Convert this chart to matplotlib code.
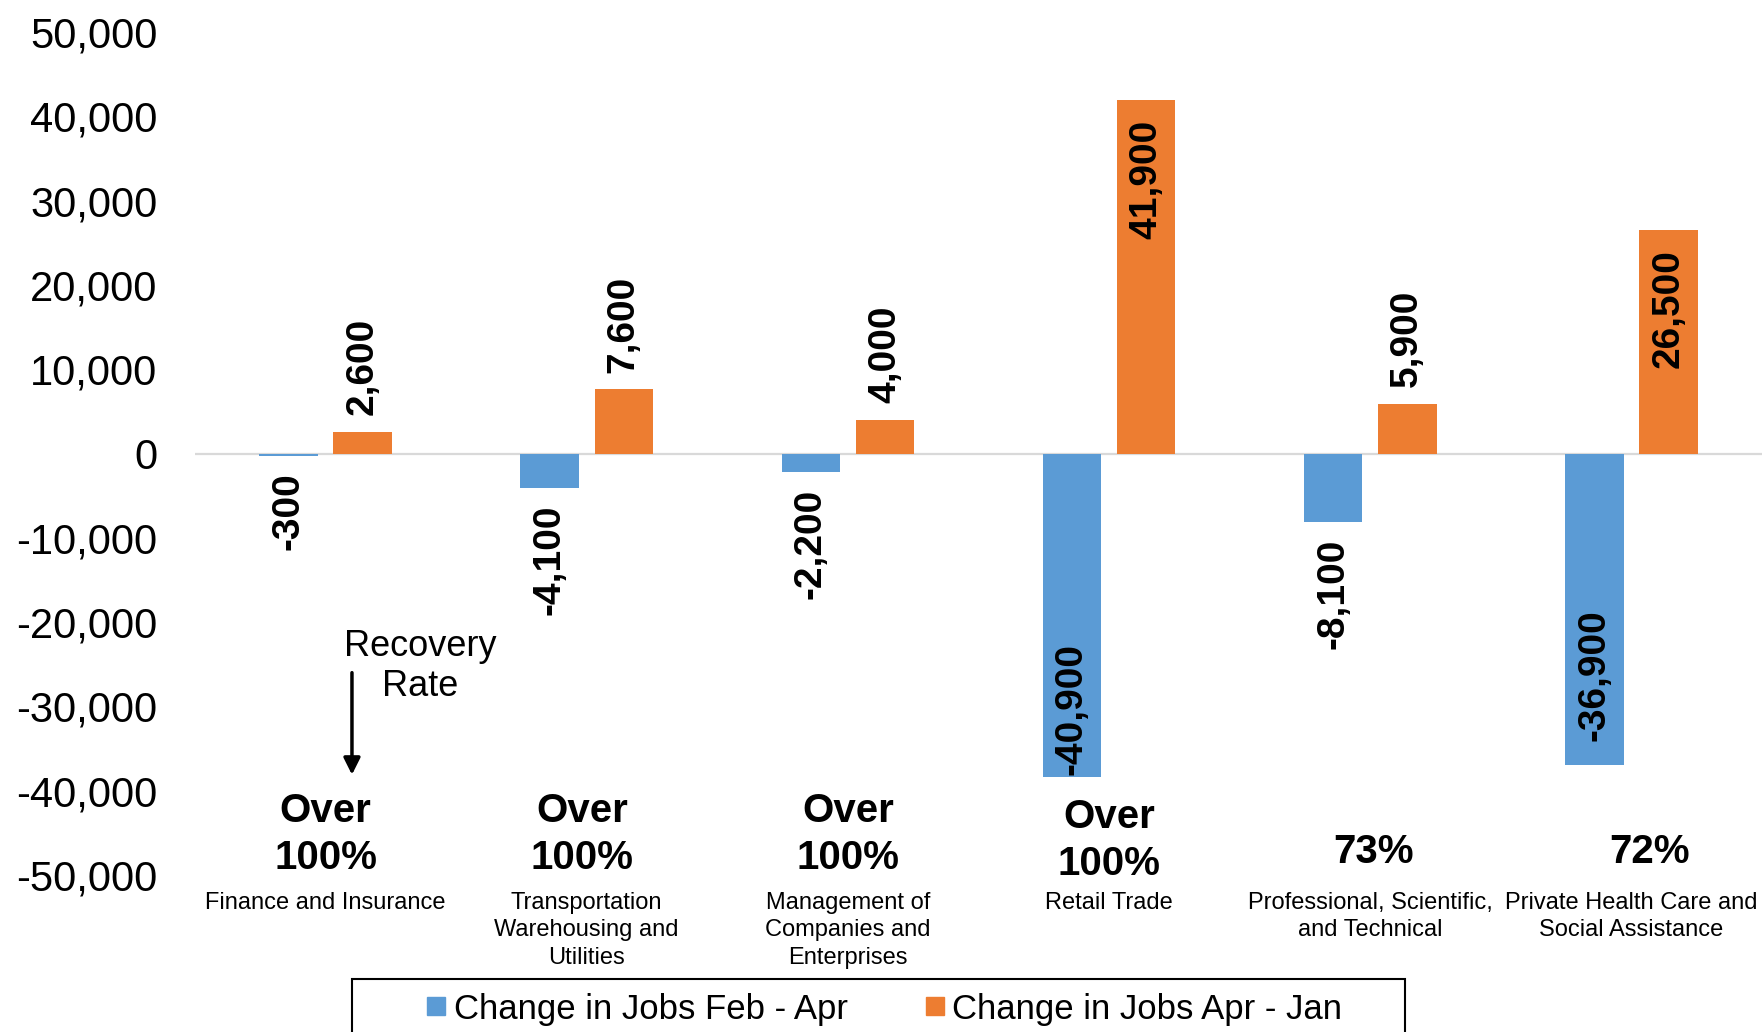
import numpy as np
import matplotlib
matplotlib.use('Agg')
import matplotlib.pyplot as plt
from matplotlib.patches import Rectangle
from matplotlib.lines import Line2D
from matplotlib.ticker import FuncFormatter

# ---------------- data ----------------
categories = [
    "Finance and Insurance",
    "Transportation\nWarehousing and\nUtilities",
    "Management of\nCompanies and\nEnterprises",
    "Retail Trade",
    "Professional, Scientific,\nand Technical",
    "Private Health Care and\nSocial Assistance",
]
series_names = ["Change in Jobs Feb - Apr", "Change in Jobs Apr - Jan"]
# bar heights as drawn in the picture
feb_apr = [-300, -4100, -2200, -38400, -8100, -36900]
apr_jan = [2600, 7600, 4000, 41900, 5900, 26500]
# values printed on the bars
feb_apr_labels = [-300, -4100, -2200, -40900, -8100, -36900]
apr_jan_labels = [2600, 7600, 4000, 41900, 5900, 26500]
recovery_rates = ["Over\n100%", "Over\n100%", "Over\n100%", "Over\n100%", "73%", "72%"]
yticks = list(range(-50000, 50001, 10000))

# ---------------- style ----------------
BLUE = "#5B9BD5"
ORANGE = "#ED7D31"
plt.rcParams['font.family'] = ['Liberation Sans', 'DejaVu Sans']

W, H = 1765, 1032
fig = plt.figure(figsize=(W / 100, H / 100), dpi=100)
ax = fig.add_axes([195 / W, 1 - 875 / H, (1762 - 195) / W, (875 - 32) / H])

x = np.arange(len(categories))
bw, off = 0.224, 0.142
ax.bar(x - off, feb_apr, bw, color=BLUE, zorder=2)
ax.bar(x + off, apr_jan, bw, color=ORANGE, zorder=2)
ax.axhline(0, color='#d9d9d9', lw=1.6, zorder=1)

ax.set_xlim(-0.5, len(categories) - 0.5)
ax.set_ylim(yticks[0], yticks[-1])
ax.set_yticks(yticks)
ax.yaxis.set_major_formatter(FuncFormatter(lambda v, p: f"{int(v):,}"))
ax.tick_params(axis='y', length=0, pad=27, labelsize=30)
ax.set_xticks(x)
ax.set_xticklabels(categories, fontsize=17)
for t in ax.get_xticklabels():
    t.set_linespacing(1.33)
ax.tick_params(axis='x', length=0, pad=12)
for s in ax.spines.values():
    s.set_visible(False)


def value_label(xpos, v):
    if v >= 0:
        va, dy = ('top', -14) if v > 20000 else ('bottom', 12)
    else:
        va, dy = ('bottom', 17) if v < -20000 else ('top', -12)
    ax.annotate(f"{v:,}", (xpos, v), xytext=(0, dy), textcoords='offset points',
                rotation=90, ha='center', va=va, fontsize=28, fontweight='bold',
                zorder=3)


for i in range(len(categories)):
    value_label(x[i] - off, feb_apr_labels[i])
    value_label(x[i] + off, apr_jan_labels[i])

# recovery rate annotations
rate_dx = [0, -0.017, 0, 0, 0.013, 0.069]
rate_y = [-45200, -45200, -45200, -45900, -47300, -47300]
for i, t in enumerate(recovery_rates):
    ax.text(x[i] + rate_dx[i], rate_y[i], t, ha='center', va='center',
            fontsize=29, fontweight='bold', linespacing=1.28)

ax.text(0.361, -25300, "Recovery\nRate", ha='center', va='center', fontsize=26)
ax.annotate('', xy=(0.101, -38100), xytext=(0.101, -26000),
            arrowprops=dict(arrowstyle='-|>', lw=2.5, color='black',
                            mutation_scale=25, shrinkA=0, shrinkB=0))

# legend
handles = [Line2D([], [], marker='s', linestyle='none', markersize=13, color=c)
           for c in (BLUE, ORANGE)]
fig.legend(handles, series_names, loc='center', bbox_to_anchor=(884 / W, 1 - 1009 / H),
           ncol=2, frameon=False, fontsize=25, handlelength=0.6, handletextpad=0.2,
           columnspacing=2.2)
fig.add_artist(Rectangle((352 / W, -0.05), (1405 - 352) / W, (1032 - 979) / H + 0.05,
                         transform=fig.transFigure, fill=False, edgecolor='black',
                         lw=1.5, clip_on=False))

fig.savefig("out.png", dpi=100)
